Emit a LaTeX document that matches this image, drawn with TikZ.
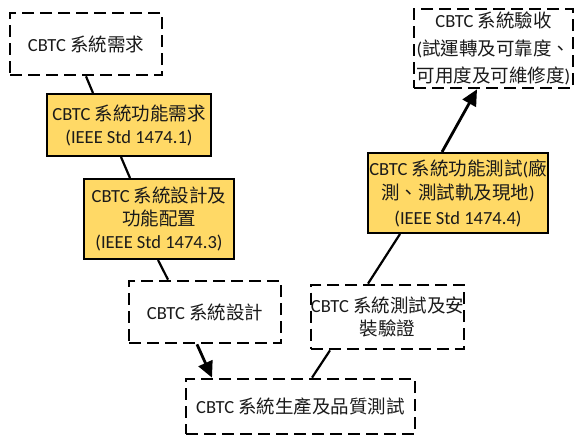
\documentclass[tikz,border=0pt]{standalone}
\usepackage{fontspec}
\setmainfont{Carlito}
\newfontfamily\cjk{Noto Sans CJK TC}
\usetikzlibrary{arrows.meta}
\newcommand\zh[1]{{\cjk #1}}
\definecolor{gold}{HTML}{FFD966}
\definecolor{ink}{HTML}{1A1A1A}

\tikzset{
  box/.style={align=center, inner xsep=0pt, inner ysep=0pt, text=ink},
  dashbox/.style={box, draw, line width=2.7pt, dash pattern=on 12pt off 6pt},
  goldbox/.style={box, draw, fill=gold, line width=2pt},
  link/.style={line width=2.2pt},
  flow/.style={line width=2.8pt, -{Triangle[length=16pt,width=15pt]}},
}

\begin{document}
\begin{tikzpicture}[x=1pt, y=-1pt, font=\fontsize{18.5}{23}\selectfont]
  \useasboundingbox (0,0) rectangle (575,445);

  % requirement side (left leg of the V)
  \node[dashbox, minimum width=152pt, minimum height=62pt] (req) at (86,44)
    {CBTC \zh{系統需求}};
  \node[goldbox, minimum width=164pt, minimum height=62pt] (func) at (129,125)
    {CBTC \zh{系統功能需求}\\(IEEE Std 1474.1)};
  \node[goldbox, minimum width=150pt, minimum height=80pt] (alloc) at (159,219)
    {CBTC \zh{系統設計及}\\\zh{功能配置}\\(IEEE Std 1474.3)};
  \node[dashbox, minimum width=152pt, minimum height=62pt] (design) at (205,312)
    {CBTC \zh{系統設計}};

  % bottom of the V
  \node[dashbox, minimum width=229pt, minimum height=55pt] (prod) at (300.5,406.5)
    {CBTC \zh{系統生產及品質測試}};

  % verification side (right leg of the V)
  \node[dashbox, minimum width=151pt, minimum height=64pt] (install) at (387.5,317)
    {CBTC \zh{系統測試及安}\\\zh{裝驗證}};
  \node[goldbox, minimum width=180pt, minimum height=80pt,
        font=\fontsize{18.5}{24.5}\selectfont] (test) at (458,193)
    {CBTC \zh{系統功能測試}(\zh{廠}\\\zh{測、測試軌及現地})\\(IEEE Std 1474.4)};
  \node[dashbox, minimum width=159pt, minimum height=79pt,
        font=\fontsize{18.5}{27.5}\selectfont] (accept) at (493.5,48.5)
    {CBTC \zh{系統驗收}\\(\zh{試運轉及可靠度、}\\\zh{可用度及可維修度})};

  % connectors
  \draw[link] (req.south) -- ([xshift=-36pt]func.north);
  \draw[link] ([xshift=-8pt]func.south) -- ([xshift=-29pt]alloc.north);
  \draw[link] ([xshift=-1pt]alloc.south) -- ([xshift=-37pt]design.north);
  \draw[flow] ([xshift=-8pt]design.south) -- ([xshift=-88.5pt]prod.north);
  \draw[link] ([xshift=11.5pt]prod.north) -- ([xshift=-57.5pt]install.south);
  \draw[link] ([xshift=-19.5pt]install.north) -- ([xshift=-58pt]test.south);
  \draw[flow] ([xshift=-16pt]test.north) -- ([xshift=-16.5pt]accept.south);
\end{tikzpicture}
\end{document}
